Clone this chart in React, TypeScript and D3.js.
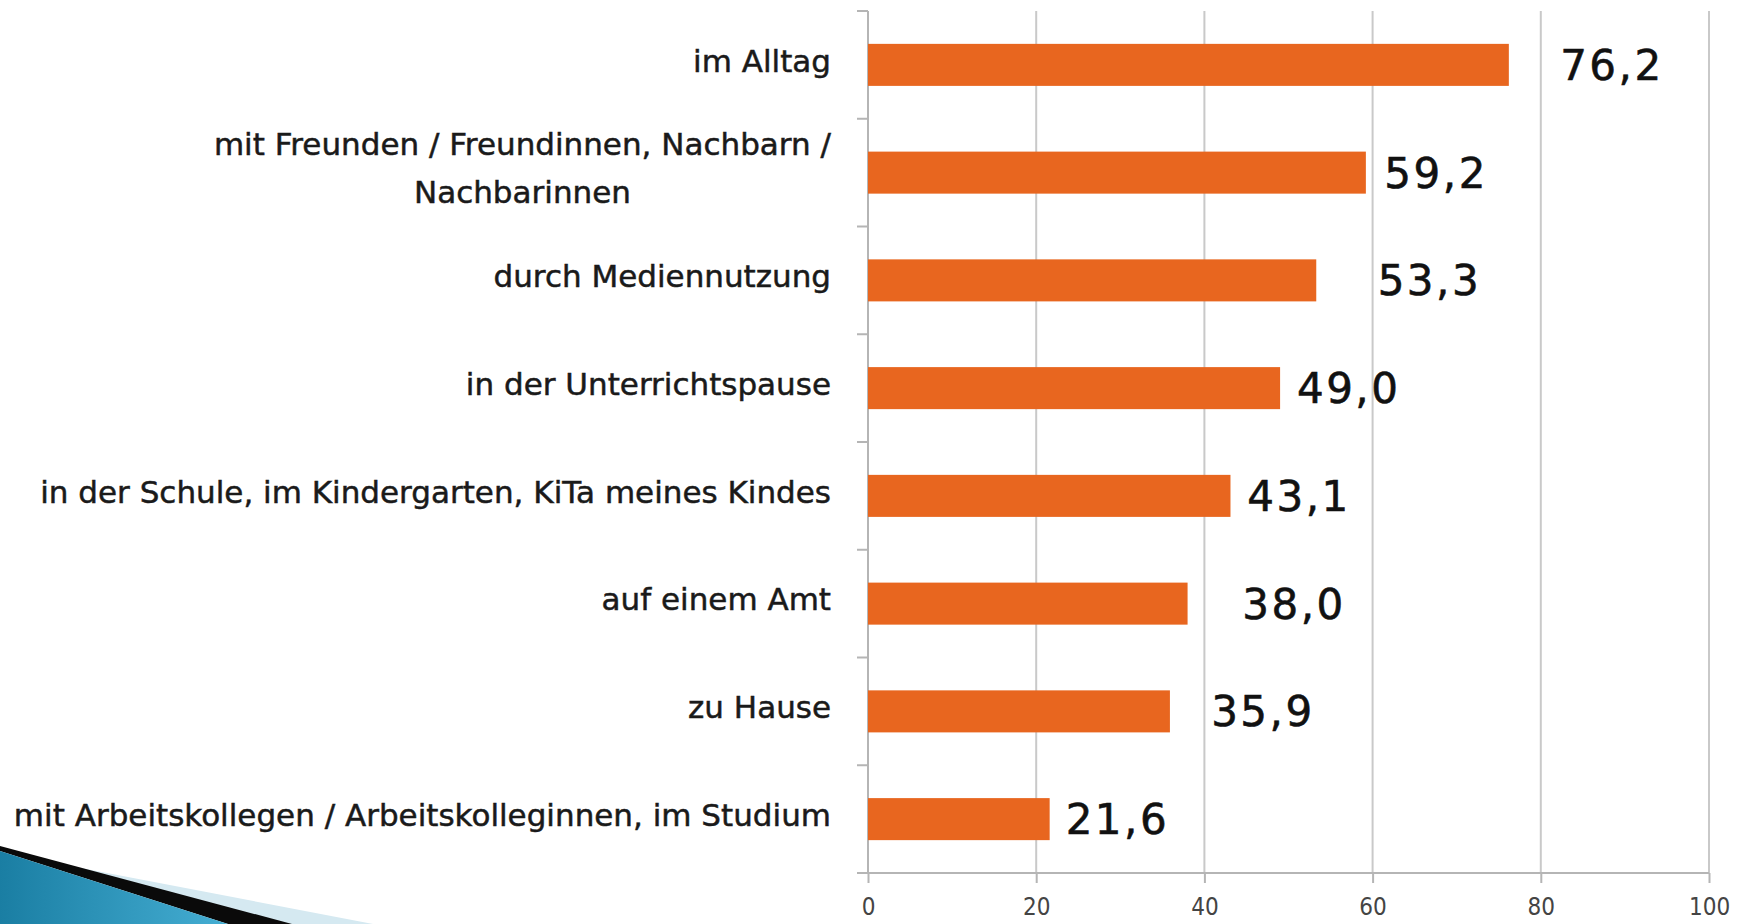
import React, { useRef, useEffect } from 'react';
import * as d3 from 'd3';

// Kategorien (oben nach unten), Werte in Prozent
const categories: string[][] = [
  ['im Alltag'],
  ['mit Freunden / Freundinnen, Nachbarn /', 'Nachbarinnen'],
  ['durch Mediennutzung'],
  ['in der Unterrichtspause'],
  ['in der Schule, im Kindergarten, KiTa meines Kindes'],
  ['auf einem Amt'],
  ['zu Hause'],
  ['mit Arbeitskollegen / Arbeitskolleginnen, im Studium'],
];
const values = [76.2, 59.2, 53.3, 49.0, 43.1, 38.0, 35.9, 21.6];
const valueLabels = ['76,2', '59,2', '53,3', '49,0', '43,1', '38,0', '35,9', '21,6'];
// where each value label starts, in axis units (labels were placed by hand)
const labelAt = [82.3, 61.4, 60.6, 51.0, 45.1, 44.5, 40.8, 23.5];
const xTicks = [0, 20, 40, 60, 80, 100];

const App: React.FC = () => {
  const svgRef = useRef<SVGSVGElement | null>(null);

  useEffect(() => {
    if (!svgRef.current) return;
    const width = 1750;
    const height = 924;
    const left = 868, right = 1709, top = 11, bottom = 873;

    const svg = d3.select(svgRef.current);
    svg.selectAll('*').remove();

    const ids = categories.map((_, i) => String(i));
    const x = d3.scaleLinear().domain([0, 100]).range([left, right]);
    const y = d3.scaleBand<string>().domain(ids).range([top, bottom])
      .paddingInner(0.61).paddingOuter(0.305);

    // swoosh bottom left
    const defs = svg.append('defs');
    const grad = defs.append('linearGradient').attr('id', 'sw').attr('x1', 0).attr('x2', 1).attr('y1', 0).attr('y2', 0);
    grad.append('stop').attr('offset', 0).attr('stop-color', '#1a7ea3');
    grad.append('stop').attr('offset', 1).attr('stop-color', '#45aed3');
    const sw = svg.append('g');
    sw.append('path').attr('d', 'M60,864 L373,924 L285,924 Z').attr('fill', '#d5e9f1');
    sw.append('path').attr('d', 'M0,846 L292,924 L228,924 L0,851 Z').attr('fill', '#0a0a0a');
    sw.append('path').attr('d', 'M0,851 L228,924 L0,924 Z').attr('fill', 'url(#sw)');

    // gridlines
    svg.append('g').selectAll('line').data(xTicks.slice(1)).join('line')
      .attr('x1', d => x(d)).attr('x2', d => x(d))
      .attr('y1', top).attr('y2', bottom)
      .attr('stroke', '#c9c9c9').attr('stroke-width', 2);

    // y axis
    const yAxis = svg.append('g');
    yAxis.append('line').attr('x1', left).attr('x2', left).attr('y1', top).attr('y2', bottom)
      .attr('stroke', '#b5b5b5').attr('stroke-width', 2);
    const step = y.step();
    const yTickPos = d3.range(ids.length + 1).map(i => top + i * step);
    yAxis.selectAll('line.t').data(yTickPos).join('line').attr('class', 't')
      .attr('x1', left - 11).attr('x2', left).attr('y1', d => d).attr('y2', d => d)
      .attr('stroke', '#b5b5b5').attr('stroke-width', 2);

    // x axis
    const xAxis = svg.append('g').attr('transform', `translate(0,${bottom})`)
      .call(d3.axisBottom(x).tickValues(xTicks).tickSize(10).tickSizeOuter(0).tickPadding(15));
    xAxis.select('.domain').attr('stroke', '#b5b5b5').attr('stroke-width', 2)
      .attr('d', `M${left - 11},0H${right}`);
    xAxis.selectAll('.tick line').attr('stroke', '#b5b5b5').attr('stroke-width', 2);
    xAxis.selectAll('.tick text')
      .attr('font-family', '"DejaVu Sans Condensed", "DejaVu Sans", sans-serif')
      .attr('font-size', 24).attr('fill', '#444');

    // bars
    svg.append('g').selectAll('rect').data(values).join('rect')
      .attr('x', x(0)).attr('y', (_, i) => y(ids[i])!)
      .attr('width', d => x(d) - x(0)).attr('height', y.bandwidth())
      .attr('fill', '#e8661f');

    // value labels
    svg.append('g').selectAll('text').data(valueLabels).join('text')
      .attr('x', (_, i) => x(labelAt[i]))
      .attr('y', (_, i) => y(ids[i])! + y.bandwidth() / 2)
      .attr('dy', '0.36em')
      .attr('font-family', '"DejaVu Sans", sans-serif')
      .attr('font-size', 42).attr('letter-spacing', 2.5).attr('fill', '#111')
      .attr('stroke', '#111').attr('stroke-width', 0.6)
      .text(d => d);

    // category labels, wrapped lines centred under each other, block right-aligned
    const lineH = 48;
    const labelRight = 831;
    const cat = svg.append('g')
      .attr('font-family', '"DejaVu Sans", sans-serif').attr('font-size', 31)
      .attr('fill', '#1a1a1a').attr('stroke', '#1a1a1a').attr('stroke-width', 0.5);
    categories.forEach((lines, i) => {
      const cy = y(ids[i])! + y.bandwidth() / 2 - 4;
      const t = cat.append('text').attr('text-anchor', 'middle');
      const spans = lines.map((ln, j) => t.append('tspan')
        .attr('y', cy + (j - (lines.length - 1) / 2) * lineH)
        .attr('dy', '0.35em').text(ln));
      const maxW = d3.max(spans, s => (s.node() as SVGTextContentElement).getComputedTextLength()) || 0;
      spans.forEach(s => s.attr('x', labelRight - maxW / 2));
    });

    svg.attr('width', width).attr('height', height);
  }, []);

  return (
    <svg ref={svgRef} width={1750} height={924}
      style={{ position: 'absolute', left: 0, top: 0, background: '#fff' }} />
  );
};

export default App;
